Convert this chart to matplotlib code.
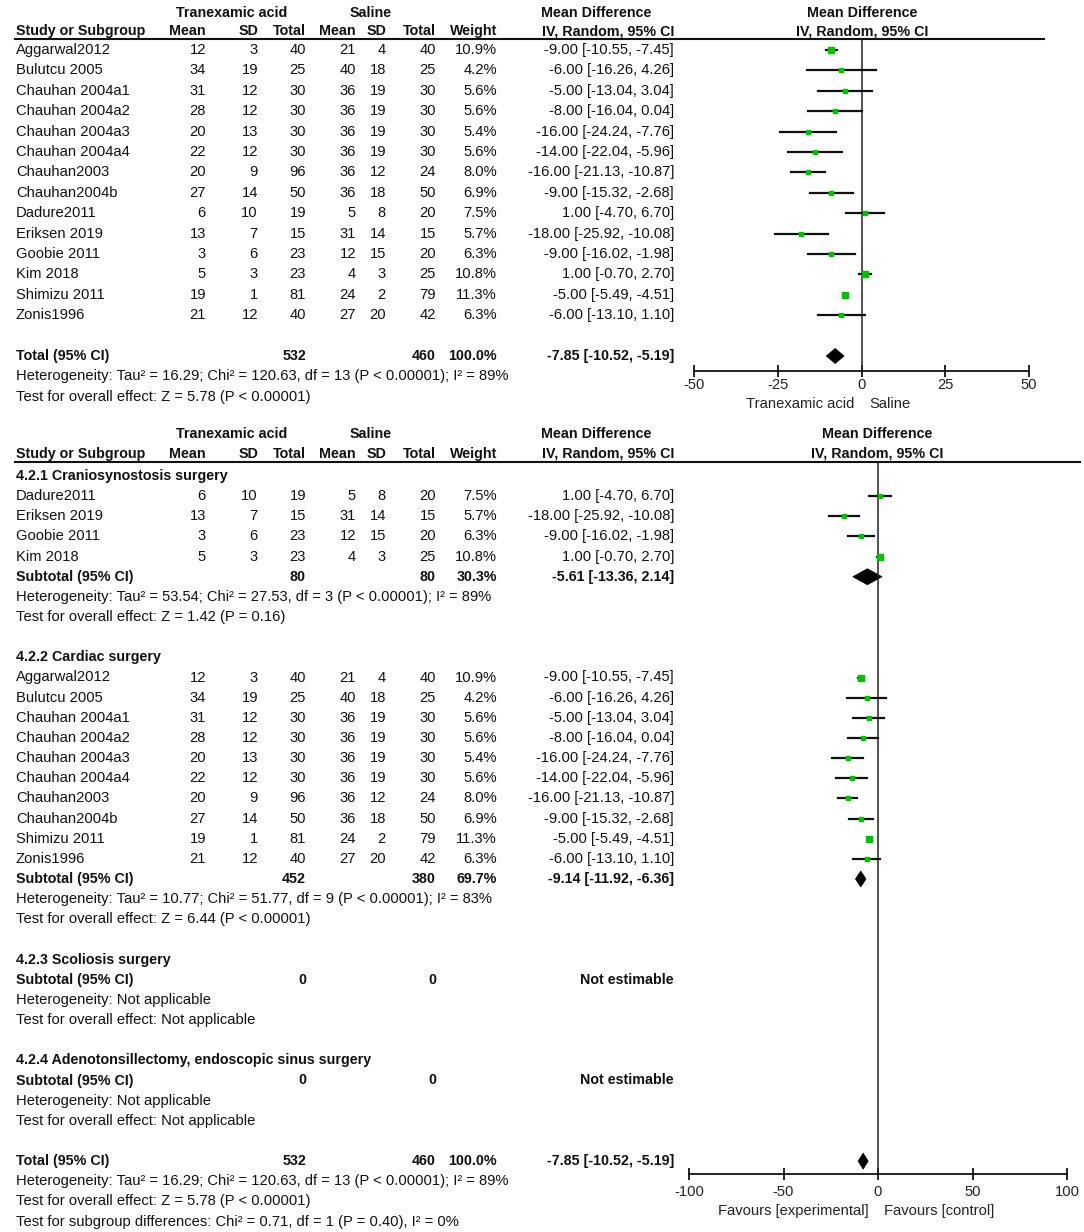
import matplotlib
matplotlib.use('Agg')
import matplotlib.pyplot as plt
import numpy as np

plt.rcParams['font.family'] = ['Liberation Sans', 'DejaVu Sans']

# study data (order as in the overall analysis)
studies = ['Aggarwal2012', 'Bulutcu 2005', 'Chauhan 2004a1', 'Chauhan 2004a2', 'Chauhan 2004a3',
           'Chauhan 2004a4', 'Chauhan2003', 'Chauhan2004b', 'Dadure2011', 'Eriksen 2019',
           'Goobie 2011', 'Kim 2018', 'Shimizu 2011', 'Zonis1996']
txa_mean = [12, 34, 31, 28, 20, 22, 20, 27, 6, 13, 3, 5, 19, 21]
txa_sd = [3, 19, 12, 12, 13, 12, 9, 14, 10, 7, 6, 3, 1, 12]
txa_n = [40, 25, 30, 30, 30, 30, 96, 50, 19, 15, 23, 23, 81, 40]
sal_mean = [21, 40, 36, 36, 36, 36, 36, 36, 5, 31, 12, 4, 24, 27]
sal_sd = [4, 18, 19, 19, 19, 19, 12, 18, 8, 14, 15, 3, 2, 20]
sal_n = [40, 25, 30, 30, 30, 30, 24, 50, 20, 15, 20, 25, 79, 42]
weight = [10.9, 4.2, 5.6, 5.6, 5.4, 5.6, 8.0, 6.9, 7.5, 5.7, 6.3, 10.8, 11.3, 6.3]
md = [-9.00, -6.00, -5.00, -8.00, -16.00, -14.00, -16.00, -9.00, 1.00, -18.00, -9.00, 1.00, -5.00, -6.00]
ci_lo = [-10.55, -16.26, -13.04, -16.04, -24.24, -22.04, -21.13, -15.32, -4.70, -25.92, -16.02, -0.70, -5.49, -13.10]
ci_hi = [-7.45, 4.26, 3.04, 0.04, -7.76, -5.96, -10.87, -2.68, 6.70, -10.08, -1.98, 2.70, -4.51, 1.10]

# overall result
total_n = [532, 460]
total_md = [-7.85, -10.52, -5.19]
total_het = 'Heterogeneity: Tau² = 16.29; Chi² = 120.63, df = 13 (P < 0.00001); I² = 89%'
total_test = 'Test for overall effect: Z = 5.78 (P < 0.00001)'
subgroup_diff = 'Test for subgroup differences: Chi² = 0.71, df = 1 (P = 0.40), I² = 0%'

# subgroups
sg_names = ['4.2.1 Craniosynostosis surgery', '4.2.2 Cardiac surgery', '4.2.3 Scoliosis surgery',
            '4.2.4 Adenotonsillectomy, endoscopic sinus surgery']
sg_members = [['Dadure2011', 'Eriksen 2019', 'Goobie 2011', 'Kim 2018'],
              ['Aggarwal2012', 'Bulutcu 2005', 'Chauhan 2004a1', 'Chauhan 2004a2', 'Chauhan 2004a3',
               'Chauhan 2004a4', 'Chauhan2003', 'Chauhan2004b', 'Shimizu 2011', 'Zonis1996'],
              [], []]
sg_n = [[80, 80], [452, 380], [0, 0], [0, 0]]
sg_weight = ['30.3%', '69.7%', '', '']
sg_md = [[-5.61, -13.36, 2.14], [-9.14, -11.92, -6.36], None, None]
sg_het = ['Heterogeneity: Tau² = 53.54; Chi² = 27.53, df = 3 (P < 0.00001); I² = 89%',
          'Heterogeneity: Tau² = 10.77; Chi² = 51.77, df = 9 (P < 0.00001); I² = 83%',
          'Heterogeneity: Not applicable', 'Heterogeneity: Not applicable']
sg_test = ['Test for overall effect: Z = 1.42 (P = 0.16)', 'Test for overall effect: Z = 6.44 (P < 0.00001)',
           'Test for overall effect: Not applicable', 'Test for overall effect: Not applicable']

top_ticks = [-50, -25, 0, 25, 50]
bot_ticks = [-100, -50, 0, 50, 100]

W, H = 1084, 1232
FS = 10.6      # regular text
FS_B = 10.3    # bold text
GREEN = '#00c000'

fig = plt.figure(figsize=(W / 100, H / 100), dpi=100)
tab = fig.add_axes([0, 0, 1, 1])
tab.set_xlim(0, W)
tab.set_ylim(H, 0)
tab.axis('off')

# column right edges
cols = [206, 258, 306, 356, 386, 436, 497]
CI_X = 674


def txt(x, y, s, ha='left', bold=False, color='#111111'):
    tab.text(x, y, s, ha=ha, va='center', fontsize=FS_B if bold else FS,
             fontweight='bold' if bold else 'normal', color=color)


def header(y1, y2, line_end, right_center):
    txt(232, y1, 'Tranexamic acid', ha='center', bold=True)
    txt(371, y1, 'Saline', ha='center', bold=True)
    txt(596, y1, 'Mean Difference', ha='center', bold=True)
    txt(right_center, y1, 'Mean Difference', ha='center', bold=True)
    txt(16, y2, 'Study or Subgroup', bold=True)
    for x, s in zip(cols, ['Mean', 'SD', 'Total', 'Mean', 'SD', 'Total', 'Weight']):
        txt(x, y2, s, ha='right', bold=True)
    txt(CI_X, y2, 'IV, Random, 95% CI', ha='right', bold=True)
    txt(right_center, y2, 'IV, Random, 95% CI', ha='center', bold=True)
    tab.plot([15, line_end], [y2 + 8, y2 + 8], color='#111111', lw=1.5)


def study_row(y, i):
    vals = [txa_mean[i], txa_sd[i], txa_n[i], sal_mean[i], sal_sd[i], sal_n[i]]
    txt(16, y, studies[i])
    for x, v in zip(cols, vals):
        txt(x, y, str(v), ha='right')
    txt(cols[6], y, f'{weight[i]:.1f}%', ha='right')
    txt(CI_X, y, f'{md[i]:.2f} [{ci_lo[i]:.2f}, {ci_hi[i]:.2f}]', ha='right')


def forest_axes(x0, x1, y0, y1, lim, ticks, pad):
    ax = fig.add_axes([x0 / W, 1 - y1 / H, (x1 - x0) / W, (y1 - y0) / H])
    ax.set_xlim(-lim, lim)
    ax.set_ylim(y1, y0)
    ax.patch.set_alpha(0)
    for s in ['top', 'left', 'right']:
        ax.spines[s].set_visible(False)
    ax.spines['bottom'].set_linewidth(1.2)
    ax.set_yticks([])
    ax.set_xticks(ticks)
    ax.set_xticklabels([str(t) for t in ticks])
    ax.tick_params(axis='x', direction='inout', length=8, width=1.2, pad=pad, labelsize=FS,
                   labelcolor='#222222')
    ax.axvline(0, color='#222222', lw=1.1)
    return ax


def study_mark(ax, y, i):
    ax.plot([ci_lo[i], ci_hi[i]], [y, y], color='#111111', lw=1.6, clip_on=False)
    ax.plot([md[i]], [y], marker='s', ls='none', color=GREEN, mec=GREEN,
            markersize=1.2 * np.sqrt(weight[i]), clip_on=False)


def diamond(ax, y, est, h):
    m, lo, hi = est
    ax.fill([lo, m, hi, m], [y, y - h / 2, y, y + h / 2], color='black', lw=0.5, clip_on=False)


# ---------------- top panel: overall analysis
header(13, 31, 1044, 862)
ax1 = forest_axes(694, 1029, 39, 371, 50, top_ticks, 1)
step_top = 20.4
for i in range(len(studies)):
    y = 50 + i * step_top
    study_row(y, i)
    study_mark(ax1, y, i)
y_tot = 50 + 15 * step_top
txt(16, y_tot, 'Total (95% CI)', bold=True)
txt(cols[2], y_tot, str(total_n[0]), ha='right', bold=True)
txt(cols[5], y_tot, str(total_n[1]), ha='right', bold=True)
txt(cols[6], y_tot, '100.0%', ha='right', bold=True)
txt(CI_X, y_tot, f'{total_md[0]:.2f} [{total_md[1]:.2f}, {total_md[2]:.2f}]', ha='right', bold=True)
diamond(ax1, y_tot, total_md, 15)
txt(16, y_tot + step_top, total_het)
txt(16, y_tot + 2 * step_top, total_test)
txt(854, 404, 'Tranexamic acid', ha='right', color='#222222')
txt(869, 404, 'Saline', color='#222222')

# ---------------- bottom panel: by subgroup
header(434, 454, 1080, 877)
ax2 = forest_axes(689, 1067, 461, 1174, 100, bot_ticks, 4)
step = 20.15
row = 0
y0 = 476
for g in range(len(sg_names)):
    txt(16, y0 + row * step, sg_names[g], bold=True)
    row += 1
    for name in sg_members[g]:
        i = studies.index(name)
        y = y0 + row * step
        study_row(y, i)
        study_mark(ax2, y, i)
        row += 1
    y = y0 + row * step
    txt(16, y, 'Subtotal (95% CI)', bold=True)
    txt(cols[2], y, str(sg_n[g][0]), ha='right', bold=True)
    txt(cols[5], y, str(sg_n[g][1]), ha='right', bold=True)
    txt(cols[6], y, sg_weight[g], ha='right', bold=True)
    if sg_md[g] is None:
        txt(CI_X, y, 'Not estimable', ha='right', bold=True)
    else:
        e = sg_md[g]
        txt(CI_X, y, f'{e[0]:.2f} [{e[1]:.2f}, {e[2]:.2f}]', ha='right', bold=True)
        diamond(ax2, y, e, 16)
    row += 1
    txt(16, y0 + row * step, sg_het[g])
    row += 1
    txt(16, y0 + row * step, sg_test[g])
    row += 2

y = y0 + row * step
txt(16, y, 'Total (95% CI)', bold=True)
txt(cols[2], y, str(total_n[0]), ha='right', bold=True)
txt(cols[5], y, str(total_n[1]), ha='right', bold=True)
txt(cols[6], y, '100.0%', ha='right', bold=True)
txt(CI_X, y, f'{total_md[0]:.2f} [{total_md[1]:.2f}, {total_md[2]:.2f}]', ha='right', bold=True)
diamond(ax2, y, total_md, 16)
txt(16, y + step, total_het)
txt(16, y + 2 * step, total_test)
txt(16, y + 3 * step, subgroup_diff)
txt(869, 1211, 'Favours [experimental]', ha='right', color='#222222')
txt(884, 1211, 'Favours [control]', color='#222222')

fig.savefig('out.png', dpi=100)
